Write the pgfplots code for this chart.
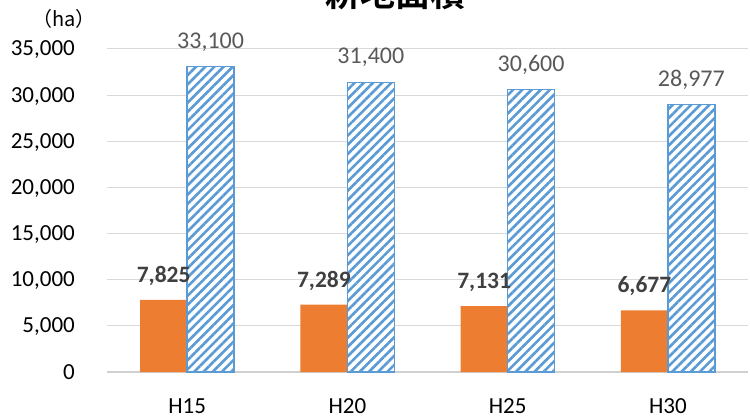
\documentclass[border=0pt]{standalone}
\usepackage{pgfplots}
\pgfplotsset{compat=1.18}
\usepackage{fontspec}
\setmainfont{Carlito}
\newfontfamily\cjk[BoldFont={Noto Sans CJK JP Bold}]{Noto Sans CJK JP}
\usetikzlibrary{patterns.meta}
\definecolor{barorange}{HTML}{ED7D31}
\definecolor{barblue}{HTML}{5B9BD5}
\definecolor{txtgray}{HTML}{595959}
\definecolor{txtdark}{HTML}{404040}
\definecolor{gridgray}{HTML}{D9D9D9}
\definecolor{axisgray}{HTML}{D0D0D0}
\begin{document}
\begin{tikzpicture}
\useasboundingbox (0,0) rectangle (750bp,419bp);
\begin{axis}[
  at={(107bp,47bp)}, anchor=south west,
  scale only axis, width=641bp, height=323bp,
  xmin=-0.5, xmax=3.5, ymin=0, ymax=35000,
  xtick={0,1,2,3}, xticklabels={H15,H20,H25,H30},
  ytick={0,5000,...,35000},
  /pgf/number format/.cd, assume math mode=true, 1000 sep={,}, /pgfplots/.cd,
  scaled y ticks=false,
  axis x line=bottom, axis y line=left,
  y axis line style={draw=none},
  x axis line style={draw=axisgray, line width=2.2bp, -},
  major tick length=0pt,
  ymajorgrids, grid style={draw=gridgray, line width=1bp},
  tick label style={font=\fontsize{23bp}{23bp}\selectfont, text=black},
  xticklabel style={anchor=base, yshift=-41bp, inner sep=0pt},
  yticklabel style={anchor=base east, xshift=-32bp, yshift=-7bp, inner sep=0pt},
  ybar, bar width=47bp,
  clip=false,
  nodes near coords,
]
\addplot[draw=none, fill=barorange, bar shift=-23.5bp,
  every node near coord/.append style={font=\fontsize{23.5bp}{23.5bp}\selectfont\bfseries, text=txtdark, anchor=base, yshift=17.5bp, inner sep=0pt}]
  coordinates {(0,7825) (1,7289) (2,7131) (3,6677)};
\addplot[draw=barblue, line width=1.3bp, fill=white, bar shift=23.5bp,
  postaction={pattern={Lines[angle=45,distance=6.5bp,line width=2.6bp]}, pattern color=barblue},
  every node near coord/.append style={font=\fontsize{24bp}{24bp}\selectfont, text=txtgray, anchor=base, yshift=18.5bp, inner sep=0pt}]
  coordinates {(0,33100) (1,31400) (2,30600) (3,28977)};
\end{axis}
\node[anchor=base, inner sep=0pt] at (395.5bp,412bp) {\cjk\bfseries\fontsize{35bp}{35bp}\selectfont 耕地面積};
\node[anchor=base, inner sep=0pt] at (64bp,392bp) {\cjk\fontsize{20bp}{20bp}\selectfont （ha）};
\end{tikzpicture}
\end{document}
